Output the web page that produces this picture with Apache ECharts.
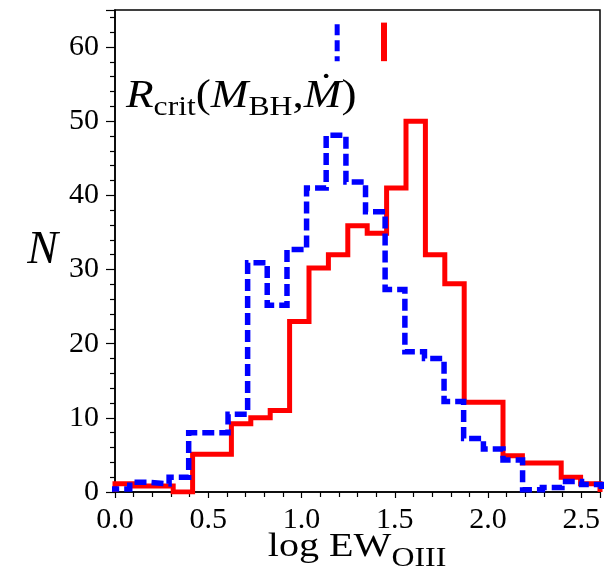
<!DOCTYPE html>
<html>
<head>
<meta charset="utf-8">
<script src="https://cdn.jsdelivr.net/npm/echarts@6/dist/echarts.min.js"></script>
<style>
  html, body { margin: 0; padding: 0; background: #fff; }
  #chart { width: 611px; height: 576px; }
</style>
</head>
<body>
<div id="chart"></div>
<script>
// Histogram bin edges (log EW_OIII) and counts for the two samples
const redEdges = [0.000, 0.104, 0.208, 0.312, 0.416, 0.520, 0.624, 0.728, 0.832, 0.936,
                  1.040, 1.144, 1.248, 1.352, 1.456, 1.560, 1.664, 1.768, 1.872, 1.976,
                  2.080, 2.184, 2.288, 2.392, 2.496, 2.600];
const redCounts = [1.1, 0.8, 0.8, 0, 5.1, 5.1, 9.2, 10, 11, 23,
                   30.2, 32, 35.9, 34.9, 41, 50, 32, 28.1, 12.1, 12.1,
                   4.9, 3.9, 3.9, 2.0, 1.1];

const blueEdges = [-0.026, 0.079, 0.185, 0.290, 0.395, 0.501, 0.606, 0.711, 0.816, 0.922,
                   1.027, 1.132, 1.238, 1.343, 1.448, 1.554, 1.659, 1.764, 1.869, 1.975,
                   2.080, 2.185, 2.291, 2.396, 2.501, 2.607];
const blueCounts = [0.4, 1.3, 1.1, 2.0, 8.0, 8.0, 10.5, 30.9, 25.2, 32.7,
                    41.0, 48.1, 41.8, 37.8, 27.3, 18.9, 18.0, 12.2, 7.2, 5.8,
                    4.3, 0.3, 0.6, 1.4, 1.0];

// Median markers drawn near the top of the panel
const medianRed = 1.442;
const medianBlue = 1.191;
const markerSpan = [58.1, 63.3];

// Axis ticks
const xTicks = [0.0, 0.5, 1.0, 1.5, 2.0, 2.5];
const yTicks = [0, 10, 20, 30, 40, 50, 60];

const SERIF = '"Liberation Serif", "DejaVu Serif", serif';

function stepPath(edges, counts) {
  const pts = [[edges[0], 0]];
  for (let i = 0; i < counts.length; i++) {
    pts.push([edges[i], counts[i]]);
    pts.push([edges[i + 1], counts[i]]);
  }
  pts.push([edges[edges.length - 1], 0]);
  return pts;
}

const chart = echarts.init(document.getElementById('chart'), null, { renderer: 'canvas' });

const RED = '#ff0000';
const BLUE = '#0000ff';

chart.setOption({
  animation: false,
  backgroundColor: '#ffffff',
  grid: {
    left: 115, right: 11, top: 10, bottom: 84,
    show: true, borderColor: '#000', borderWidth: 1.5, backgroundColor: 'transparent'
  },
  xAxis: {
    type: 'value',
    min: 0, max: 2.6, interval: 0.5,
    axisLine: { show: true, onZero: false, lineStyle: { color: '#000', width: 1.5 } },
    axisTick: { show: true, inside: false, length: 6, lineStyle: { color: '#000', width: 1.2 } },
    minorTick: { show: true, splitNumber: 5, length: 5, lineStyle: { color: '#000', width: 1.2 } },
    splitLine: { show: false },
    minorSplitLine: { show: false },
    axisLabel: {
      margin: 13,
      fontFamily: SERIF, fontSize: 30, color: '#000',
      formatter: v => xTicks.some(t => Math.abs(t - v) < 1e-6) ? v.toFixed(1) : ''
    }
  },
  yAxis: {
    type: 'value',
    min: 0, max: 65, interval: 10,
    name: 'N',
    nameLocation: 'middle',
    nameRotate: 0,
    nameGap: 57,
    nameTextStyle: { fontFamily: SERIF, fontStyle: 'italic', fontSize: 46, color: '#000' },
    axisLine: { show: true, onZero: false, lineStyle: { color: '#000', width: 1.5 } },
    axisTick: { show: true, inside: false, length: 9, lineStyle: { color: '#000', width: 1.2 } },
    minorTick: { show: true, splitNumber: 5, length: 5, lineStyle: { color: '#000', width: 1.2 } },
    splitLine: { show: false },
    minorSplitLine: { show: false },
    axisLabel: {
      margin: 16,
      fontFamily: SERIF, fontSize: 30, color: '#000',
      formatter: v => yTicks.indexOf(v) >= 0 ? String(v) : ''
    }
  },
  graphic: [
    {
      // x-axis title
      type: 'text',
      x: 357, y: 530,
      scaleX: 1.18,
      z: 100,
      style: {
        text: '{m|log EW}{s|OIII}',
        align: 'center', verticalAlign: 'top',
        fill: '#000',
        rich: {
          m: { fontFamily: SERIF, fontSize: 34, fill: '#000', verticalAlign: 'bottom', padding: [0, 0, 8, 0] },
          s: { fontFamily: SERIF, fontSize: 27, fill: '#000', verticalAlign: 'bottom' }
        }
      }
    },
    {
      // critical-radius label
      type: 'text',
      x: 126, y: 76,
      scaleX: 1.13,
      z: 100,
      style: {
        text: '{i|R}{s|crit}{r|(}{i|M}{s|BH}{r|,}{i|Ṁ}{r|)}',
        align: 'left', verticalAlign: 'top',
        fill: '#000',
        rich: {
          i: { fontFamily: SERIF, fontStyle: 'italic', fontSize: 40, fill: '#000', verticalAlign: 'bottom', padding: [0, 0, 6, 0] },
          r: { fontFamily: SERIF, fontSize: 40, fill: '#000', verticalAlign: 'bottom', padding: [0, 0, 6, 0] },
          s: { fontFamily: SERIF, fontSize: 28, fill: '#000', verticalAlign: 'bottom' }
        }
      }
    }
  ],
  series: [
    {
      name: 'red',
      type: 'line',
      data: stepPath(redEdges, redCounts),
      showSymbol: false,
      clip: true,
      z: 2,
      lineStyle: { color: RED, width: 5, cap: 'butt', join: 'miter' }
    },
    {
      name: 'blue',
      type: 'line',
      data: stepPath(blueEdges, blueCounts),
      showSymbol: false,
      clip: true,
      z: 3,
      lineStyle: { color: BLUE, width: 5.5, type: [12, 5], cap: 'butt', join: 'miter' }
    },
    {
      name: 'red median',
      type: 'line',
      data: [[medianRed, markerSpan[0]], [medianRed, markerSpan[1]]],
      showSymbol: false,
      z: 4,
      lineStyle: { color: RED, width: 6, cap: 'butt' }
    },
    {
      name: 'blue median',
      type: 'line',
      data: [[medianBlue, markerSpan[0]], [medianBlue, markerSpan[1]]],
      showSymbol: false,
      z: 4,
      lineStyle: { color: BLUE, width: 5, type: [11, 5], dashOffset: 6, cap: 'butt' }
    }
  ]
});
</script>
</body>
</html>
